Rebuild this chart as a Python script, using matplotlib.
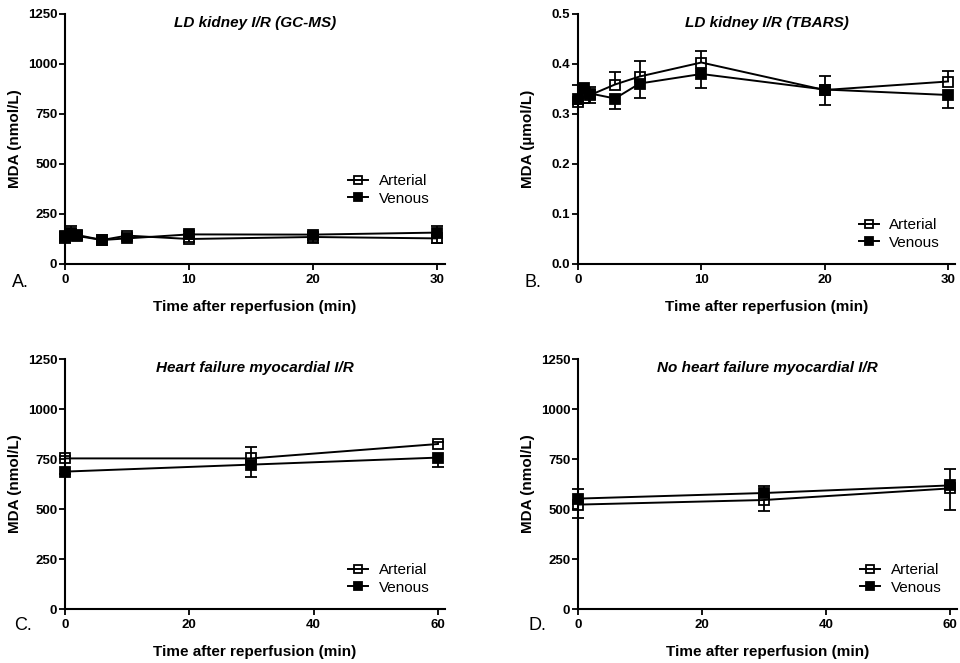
import matplotlib
matplotlib.use('Agg')
import matplotlib.pyplot as plt
import numpy as np

plt.rcParams['font.family'] = ['Liberation Sans', 'DejaVu Sans']

# --- data (mean, one-sided error bar) ---
kidney_t = [0, 0.5, 1, 3, 5, 10, 20, 30]
heart_t = [0, 30, 60]

a_art = [135, 150, 140, 120, 142, 125, 135, 128]
a_art_err = [30, 20, 15, 10, 12, 15, 30, 25]
a_ven = [140, 155, 145, 120, 128, 148, 147, 157]
a_ven_err = [20, 33, 20, 10, 12, 15, 12, 33]

b_art = [0.325, 0.333, 0.338, 0.359, 0.375, 0.403, 0.348, 0.365]
b_art_err = [0.033, 0.02, 0.015, 0.026, 0.031, 0.023, 0.029, 0.021]
b_ven = [0.33, 0.353, 0.341, 0.331, 0.361, 0.38, 0.349, 0.338]
b_ven_err = [0.01, 0.01, 0.018, 0.021, 0.028, 0.027, 0.03, 0.025]

c_art = [753, 753, 825]
c_art_err = [10, 58, 12]
c_ven = [687, 722, 757]
c_ven_err = [10, 63, 45]

d_art = [522, 545, 603]
d_art_err = [65, 55, 108]
d_ven = [552, 580, 618]
d_ven_err = [48, 34, 80]

titles = ['LD kidney I/R (GC-MS)', 'LD kidney I/R (TBARS)',
          'Heart failure myocardial I/R', 'No heart failure myocardial I/R']
letters = ['A.', 'B.', 'C.', 'D.']
ylabels = ['MDA (nmol/L)', 'MDA (\u00b5mol/L)', 'MDA (nmol/L)', 'MDA (nmol/L)']

W, H = 960, 663
fig = plt.figure(figsize=(W / 100, H / 100), dpi=100)


def px_axes(left, top, right, bottom):
    return fig.add_axes([left / W, (H - bottom) / H, (right - left) / W, (bottom - top) / H])


def errbars(ax, t, y, err, sign):
    t = np.asarray(t)
    y = np.asarray(y, dtype=float)
    end = y + sign * np.asarray(err, dtype=float)
    ax.vlines(t, y, end, color='black', lw=1.3, zorder=2, clip_on=False)
    ax.plot(t, end, ls='none', marker='_', ms=8, mew=1.3, color='black', zorder=2, clip_on=False)


def draw(ax, t, art, art_err, art_sign, ven, ven_err, ven_sign, xmax, xticks, ymax, yticks, yfmt):
    errbars(ax, t, art, art_err, art_sign)
    errbars(ax, t, ven, ven_err, ven_sign)
    ax.plot(t, art, '-s', color='black', lw=1.4, ms=6.5, mew=1.3, mfc='none',
            label='Arterial', zorder=3, clip_on=False)
    ax.plot(t, ven, '-s', color='black', lw=1.4, ms=6.5, mew=1.3, mfc='black',
            label='Venous', zorder=3, clip_on=False)
    ax.set_xlim(0, xmax)
    ax.set_ylim(0, ymax)
    ax.set_xticks(xticks)
    ax.set_yticks(yticks)
    ax.set_yticklabels([yfmt.format(v) for v in yticks])
    for s in ['top', 'right']:
        ax.spines[s].set_visible(False)
    for s in ['left', 'bottom']:
        ax.spines[s].set_linewidth(1.5)
    ax.tick_params(axis='both', direction='out', length=4.5, width=1.3, labelsize=9.5)
    ax.tick_params(axis='y', pad=1)
    ax.tick_params(axis='x', pad=3)
    for lab in ax.get_xticklabels() + ax.get_yticklabels():
        lab.set_fontweight('bold')


specs = [
    ((65, 14, 445, 264), kidney_t, a_art, a_art_err, -1, a_ven, a_ven_err, 1, 30.65, [0, 10, 20, 30],
     1250, [0, 250, 500, 750, 1000, 1250], '{:.0f}', (0.745, 0.36)),
    ((578, 14, 955, 264), kidney_t, b_art, b_art_err, 1, b_ven, b_ven_err, -1, 30.57, [0, 10, 20, 30],
     0.5, [0, 0.1, 0.2, 0.3, 0.4, 0.5], '{:.1f}', (0.745, 0.184)),
    ((65, 359, 445, 609), heart_t, c_art, c_art_err, 1, c_ven, c_ven_err, -1, 61.13, [0, 20, 40, 60],
     1250, [0, 250, 500, 750, 1000, 1250], '{:.0f}', (0.745, 0.184)),
    ((578, 359, 957, 609), heart_t, d_art, d_art_err, -1, d_ven, d_ven_err, 1, 61.1, [0, 20, 40, 60],
     1250, [0, 250, 500, 750, 1000, 1250], '{:.0f}', (0.745, 0.184)),
]
letter_pos = [(20, 282), (533, 282), (23, 626), (537, 626)]

for i, sp in enumerate(specs):
    box, t, art, ae, asg, ven, ve, vsg, xmax, xt, ymax, yt, yfmt, legpos = sp
    ax = px_axes(*box)
    draw(ax, t, art, ae, asg, ven, ve, vsg, xmax, xt, ymax, yt, yfmt)
    ax.text(0.5, 0.965, titles[i], transform=ax.transAxes, ha='center', va='center',
            fontsize=11, fontweight='bold', fontstyle='italic')
    ax.set_xlabel('Time after reperfusion (min)', fontsize=11, fontweight='bold')
    ax.xaxis.set_label_coords(0.5, -0.145)
    ax.set_ylabel(ylabels[i], fontsize=11, fontweight='bold')
    ax.yaxis.set_label_coords(-0.113, 0.5)
    ax.legend(loc='upper left', bbox_to_anchor=legpos, frameon=False, fontsize=11,
              borderpad=0, borderaxespad=0, handlelength=1.3, handletextpad=0.7,
              labelspacing=0.25, markerscale=0.85)
    lx, ly = letter_pos[i]
    fig.text(lx / W, 1 - ly / H, letters[i], ha='center', va='center', fontsize=13)

fig.savefig('out.png', dpi=100)
